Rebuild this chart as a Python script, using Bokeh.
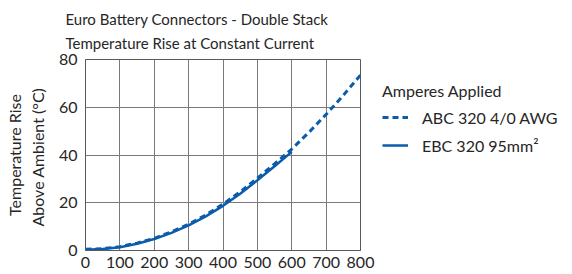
from bokeh.plotting import figure
from bokeh.models import Legend, LegendItem, FixedTicker, Range1d, Title
from bokeh.embed import file_html
from bokeh.resources import INLINE

title_lines = ["Euro Battery Connectors - Double Stack", "Temperature Rise at Constant Current"]
y_label = "Temperature Rise\nAbove Ambient  (°C)"
legend_title = "Amperes Applied"

abc_name = "ABC 320 4/0 AWG"
abc_amps = [0, 50, 100, 150, 200, 250, 300, 350, 400, 450, 500, 550, 600, 650, 700, 750, 800]
abc_temp = [0.5, 0.8, 1.6, 3.1, 5.1, 7.8, 11.0, 14.9, 19.4, 24.6, 30.3, 36.3, 42.5, 49.5, 57.0, 65.0, 73.5]

ebc_name = "EBC 320 95mm²"
ebc_amps = [0, 50, 100, 150, 200, 250, 300, 350, 400, 450, 500, 550, 600]
ebc_temp = [0.3, 0.6, 1.4, 2.8, 4.8, 7.4, 10.5, 14.3, 18.7, 23.8, 29.4, 35.3, 41.3]

x_ticks = [0, 100, 200, 300, 400, 500, 600, 700, 800]
y_ticks = [0, 20, 40, 60, 80]

FONT = "Lato"
FS = "16px"
TXT = "#262626"
BLUE = "#0b5cab"

p = figure(frame_width=275, frame_height=191, output_backend="svg", toolbar_location=None,
           x_range=Range1d(0, 800), y_range=Range1d(0, 80),
           min_border_left=85, min_border_top=50, min_border_right=10, min_border_bottom=10)

p.xaxis.ticker = FixedTicker(ticks=x_ticks)
p.yaxis.ticker = FixedTicker(ticks=y_ticks)
for ax in (p.xaxis[0], p.yaxis[0]):
    ax.major_tick_line_color = None
    ax.minor_tick_line_color = None
    ax.major_tick_out = 0
    ax.major_tick_in = 0
    ax.axis_line_color = "#595959"
    ax.major_label_text_font = FONT
    ax.major_label_text_font_size = FS
    ax.major_label_text_color = TXT
p.xaxis.major_label_standoff = 6
p.xaxis.axis_label_standoff = 0
p.yaxis.major_label_standoff = 8
p.yaxis.axis_label = y_label
p.yaxis.axis_label_text_font = FONT
p.yaxis.axis_label_text_font_size = FS
p.yaxis.axis_label_text_font_style = "normal"
p.yaxis.axis_label_text_color = TXT
p.yaxis.axis_label_standoff = 9

p.xgrid.grid_line_color = "#7a7a7a"
p.ygrid.grid_line_color = "#7a7a7a"
p.outline_line_color = "#595959"

r_abc = p.line(abc_amps, abc_temp, line_color=BLUE, line_width=3, line_dash="6 4")
r_ebc = p.line(ebc_amps, ebc_temp, line_color=BLUE, line_width=2.5)

p.title = Title(text="\n".join(title_lines), align="left", offset=-20,
                text_font=FONT, text_font_size="15px", text_color=TXT,
                text_font_style="normal", text_line_height=1.35, standoff=15)

legend = Legend(items=[LegendItem(label=abc_name, renderers=[r_abc]),
                       LegendItem(label=ebc_name, renderers=[r_ebc])],
                title=legend_title, location="top_left",
                border_line_color=None, background_fill_alpha=0,
                label_text_font=FONT, label_text_font_size=FS, label_text_color=TXT,
                title_text_font=FONT, title_text_font_size=FS, title_text_color=TXT,
                title_text_font_style="normal", title_standoff=7,
                glyph_width=26, spacing=8, label_standoff=14, padding=4,
                margin=22)
p.add_layout(legend, "right")

open("out.html", "w").write(file_html(p, INLINE))
